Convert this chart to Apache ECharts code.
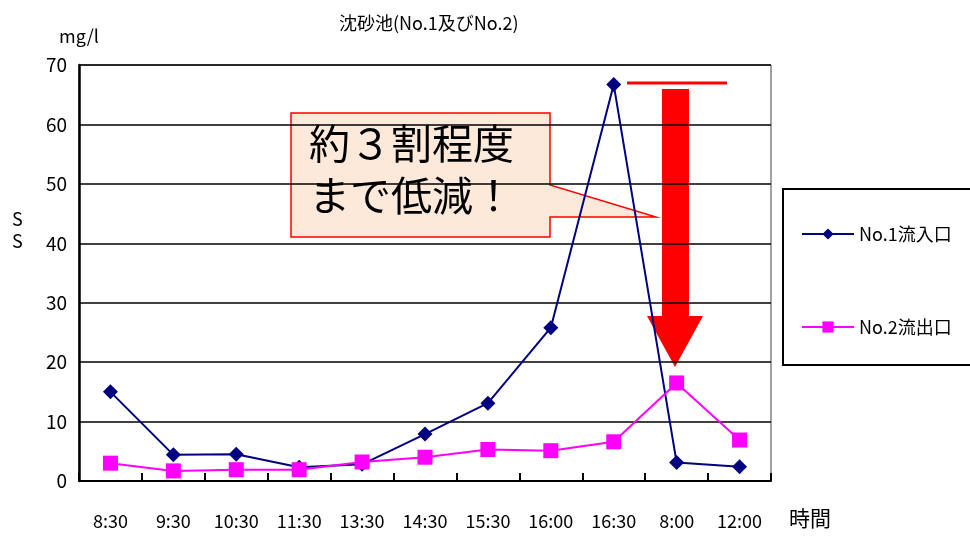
<!DOCTYPE html>
<html>
<head>
<meta charset="utf-8">
<script src="https://cdn.jsdelivr.net/npm/echarts@6/dist/echarts.min.js"></script>
<style>
  html, body { margin: 0; padding: 0; background: #fff; }
  #chart { width: 970px; height: 537px; }
</style>
</head>
<body>
<div id="chart"></div>
<script>
// 時刻（横軸）
var times = ['8:30', '9:30', '10:30', '11:30', '13:30', '14:30', '15:30', '16:00', '16:30', '8:00', '12:00'];
// No.1 流入口 SS (mg/l)
var inflow = [15.0, 4.4, 4.5, 2.3, 2.8, 7.9, 13.1, 25.8, 66.7, 3.1, 2.4];
// No.2 流出口 SS (mg/l)
var outflow = [3.0, 1.7, 1.9, 1.9, 3.2, 4.0, 5.3, 5.1, 6.6, 16.5, 6.9];
var seriesNames = ['No.1流入口', 'No.2流出口'];

var font = '"Noto Sans CJK JP", sans-serif';

(function () {
  var option = {
    backgroundColor: '#fff',
    animation: false,
    title: {
      text: '沈砂池(No.1及びNo.2)',
      left: 334,
      top: 9,
      textStyle: { fontFamily: font, fontSize: 18, fontWeight: 'normal', color: '#000' }
    },
    grid: {
      left: 79, right: 199, top: 65, bottom: 56,
      show: true, borderColor: '#444', borderWidth: 1
    },
    legend: {
      orient: 'vertical',
      left: 801,
      top: 225,
      itemWidth: 52,
      itemHeight: 14,
      itemGap: 75,
      padding: 0,
      textStyle: { fontFamily: font, fontSize: 18, color: '#000' },
      data: seriesNames
    },
    xAxis: {
      type: 'category',
      data: times,
      axisLine: { lineStyle: { color: '#000', width: 2 } },
      axisTick: { show: true, inside: true, length: 8, lineStyle: { color: '#000', width: 2 } },
      axisLabel: { interval: 0, margin: 31, fontFamily: font, fontSize: 18, color: '#000' }
    },
    yAxis: {
      type: 'value',
      min: 0, max: 70, interval: 10,
      name: 'mg/l',
      nameLocation: 'end',
      nameGap: 20,
      nameTextStyle: { fontFamily: font, fontSize: 18, color: '#000' },
      axisLine: { show: true, lineStyle: { color: '#000', width: 2.5 } },
      axisTick: { show: false },
      axisLabel: { margin: 12, fontFamily: font, fontSize: 19, color: '#000' },
      splitLine: { lineStyle: { color: '#000', width: 1.5 } }
    },
    series: [
      {
        name: seriesNames[0],
        type: 'line',
        data: inflow,
        symbol: 'diamond',
        symbolSize: 15,
        itemStyle: { color: '#000080' },
        lineStyle: { color: '#000080', width: 2 }
      },
      {
        name: seriesNames[1],
        type: 'line',
        data: outflow,
        symbol: 'rect',
        symbolSize: 15,
        itemStyle: { color: '#ff00ff' },
        lineStyle: { color: '#ff00ff', width: 2 }
      }
    ],
    graphic: [
      // 縦軸名
      { type: 'text', left: 12, top: 208, style: { text: 'S\nS', font: '18px ' + font, fill: '#000', lineHeight: 22 } },
      // 横軸名
      { type: 'text', left: 789, top: 508, style: { text: '時間', font: '21px ' + font, fill: '#000' } },
      // 凡例の枠
      { type: 'rect', shape: { x: 783, y: 189, width: 200, height: 176 }, style: { fill: 'none', stroke: '#000', lineWidth: 2 } },
      // ピーク位置の赤線
      { type: 'line', shape: { x1: 627, y1: 83, x2: 727, y2: 83 }, style: { stroke: '#ff0000', lineWidth: 3 } },
      // 赤い下向き矢印
      {
        type: 'polygon',
        shape: { points: [[662, 89], [689, 89], [689, 316], [703, 316], [675, 367], [647, 316], [662, 316]] },
        style: { fill: '#ff0000' }
      },
      // 吹き出し
      {
        type: 'polygon',
        shape: { points: [[291, 113], [550, 113], [550, 185], [656, 217], [550, 217], [550, 237], [291, 237]] },
        style: { fill: '#fde9d9', stroke: '#ff0000', lineWidth: 1.5 }
      },
      {
        type: 'text', left: 309, top: 117,
        style: { text: '約３割程度\nまで低減！', font: '41px ' + font, fill: '#000', lineHeight: 52 }
      }
    ]
  };

  var myChart = echarts.init(document.getElementById('chart'));
  myChart.setOption(option);
})();
</script>
</body>
</html>
